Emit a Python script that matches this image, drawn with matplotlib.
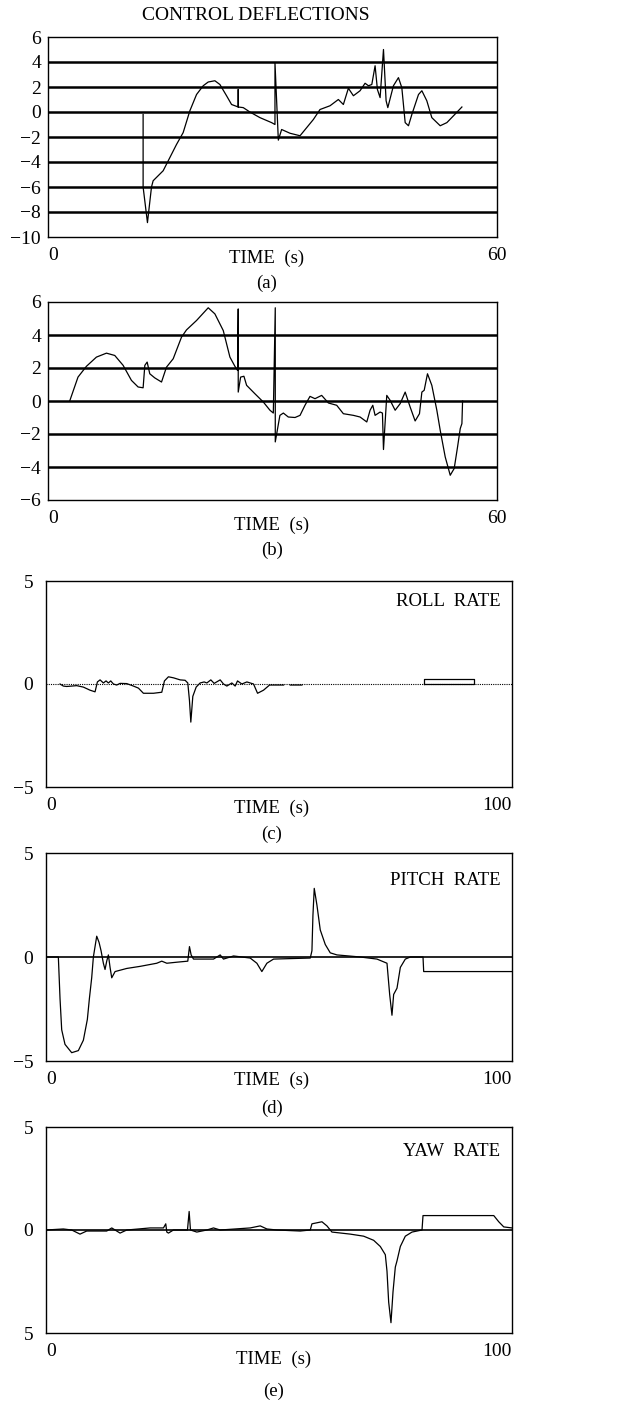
import matplotlib
matplotlib.use("Agg")
import matplotlib.pyplot as plt
import numpy as np

plt.rcParams['font.family'] = ['Liberation Serif', 'DejaVu Serif']

### Data

# (a) control deflection 1, 0-60 s
ta = [12.71, 12.71, 13.29, 13.83, 14.05, 15.39, 16.28, 17.17, 18.06, 18.96, 19.85,
      20.74, 21.41, 22.30, 22.97, 23.86, 24.53, 24.98, 25.42, 25.42, 25.42, 26.09,
      26.98, 28.32, 29.88, 30.33, 30.33, 30.78, 31.22, 32.34, 33.68, 34.57, 35.46,
      36.35, 37.02, 37.69, 38.80, 39.47, 40.14, 40.81, 41.70, 42.37, 42.82, 43.27,
      43.71, 44.02, 44.38, 44.83, 45.18, 45.41, 46.16, 46.83, 47.28, 47.73, 48.17,
      48.62, 49.51, 49.96, 50.62, 51.29, 52.41, 53.30, 54.19, 55.31]
da = [-0.2, -6.0, -8.85, -6.0, -5.5, -4.7, -3.65, -2.6, -1.65, 0.1, 1.4,
      2.1, 2.4, 2.5, 2.2, 1.3, 0.6, 0.5, 0.4, 1.8, 0.4, 0.35,
      0.0, -0.45, -0.85, -1.0, 3.95, -2.25, -1.4, -1.7, -1.9, -1.25, -0.6,
      0.2, 0.35, 0.5, 1.0, 0.6, 1.9, 1.3, 1.7, 2.3, 2.1, 2.2,
      3.7, 1.8, 1.15, 5.0, 0.9, 0.35, 2.1, 2.75, 1.95, -0.85, -1.1,
      -0.2, 1.4, 1.7, 0.9, -0.45, -1.1, -0.85, -0.3, 0.4]

# (b) control deflection 2, 0-60 s
tb = [2.90, 4.01, 5.13, 6.47, 7.81, 8.92, 10.04, 11.15, 12.04, 12.71, 12.94, 13.25,
      13.60, 14.27, 15.17, 15.83, 16.73, 17.84, 18.51, 19.85, 21.41, 22.30, 23.42,
      24.31, 24.98, 25.34, 25.42, 25.42, 25.74, 26.18, 26.54, 27.65, 28.77, 29.66,
      30.11, 30.37, 30.37, 30.99, 31.45, 32.11, 33.01, 33.68, 34.34, 35.01, 35.68,
      36.57, 37.47, 38.58, 39.47, 40.81, 41.70, 42.60, 43.04, 43.40, 43.71, 44.38,
      44.69, 44.83, 45.27, 45.72, 46.39, 47.06, 47.73, 48.39, 49.06, 49.64, 49.96,
      50.27, 50.71, 51.29, 51.96, 52.41, 53.08, 53.75, 54.28, 54.73, 55.09, 55.31, 55.40]
db = [0.0, 1.45, 2.1, 2.66, 2.9, 2.76, 2.16, 1.25, 0.85, 0.8, 2.16, 2.36,
      1.65, 1.4, 1.15, 2.05, 2.56, 3.87, 4.31, 4.88, 5.65, 5.28, 4.27,
      2.66, 2.1, 1.85, 5.58, 0.54, 1.45, 1.5, 0.95, 0.44, -0.06, -0.56,
      -0.73, 5.65, -2.48, -0.87, -0.73, -0.97, -1.0, -0.87, -0.26, 0.28, 0.14,
      0.34, -0.12, -0.26, -0.77, -0.87, -0.97, -1.27, -0.56, -0.26, -0.87, -0.67,
      -0.73, -2.94, 0.34, 0.04, -0.56, -0.16, 0.54, -0.36, -1.21, -0.77, 0.54,
      0.65, 1.65, 0.95, -0.56, -1.77, -3.39, -4.5, -4.09, -2.78, -1.67, -1.37, 0.0]

# (c) roll rate, 0-100 s (nan = gap in trace)
tc = [3.10, 3.83, 4.57, 6.78, 8.26, 9.73, 10.84, 11.36, 11.95, 12.68, 13.27, 13.79,
      14.31, 14.90, 15.63, 16.37, 17.85, 19.32, 20.43, 21.53, 23.75, 25.59, 26.18,
      27.06, 28.17, 29.65, 30.75, 31.34, 31.71, 32.01, 32.45, 33.19, 34.07, 34.96,
      35.55, 36.43, 37.17, 38.50, 39.23, 39.97, 41.08, 41.81, 42.33, 43.29, 44.40,
      45.87, 46.76, 48.08, 49.41, 52.51, 53.2, 53.98, 56.56]
dc = [0.0, -0.1, -0.12, -0.08, -0.15, -0.3, -0.38, 0.1, 0.2, 0.05, 0.15, 0.05,
      0.15, 0.0, -0.05, 0.03, 0.02, -0.1, -0.2, -0.45, -0.45, -0.4, 0.15,
      0.35, 0.3, 0.2, 0.18, 0.05, -0.8, -1.85, -0.6, -0.15, 0.05, 0.1,
      0.05, 0.2, 0.03, 0.2, 0.0, -0.1, 0.05, -0.1, 0.15, 0.0, 0.1,
      0.0, -0.45, -0.3, -0.05, -0.05, np.nan, -0.05, -0.05]
# (c) small box near the end of the roll trace
box_t = [83.48, 94.54, 94.54, 83.48, 83.48]
box_v = [0.0, 0.0, 0.25, 0.25, 0.0]

# (d) pitch rate
td = [0.0, 2.73, 3.10, 3.47, 4.20, 5.68, 7.15, 8.26, 9.14, 9.59, 10.10, 10.47,
      10.84, 11.21, 11.73, 12.17, 12.68, 13.05, 13.42, 13.79, 14.16, 14.53, 15.27,
      17.85, 20.80, 24.48, 25.59, 26.70, 28.91, 31.34, 31.71, 32.08, 32.60, 37.02,
      38.50, 39.23, 41.45, 45.13, 46.61, 47.71, 48.82, 50.29, 58.41, 58.78, 59.00,
      59.29, 59.88, 60.62, 61.73, 62.83, 64.31, 69.47, 73.16, 75.37, 75.96, 76.47,
      76.84, 77.58, 78.32, 79.42, 80.53, 83.33, 83.48, 103.0]
dd = [0.0, 0.0, -2.0, -3.5, -4.2, -4.6, -4.5, -4.0, -3.0, -2.0, -1.0, 0.0,
      0.5, 1.0, 0.7, 0.3, -0.3, -0.6, -0.2, 0.1, -0.5, -1.0, -0.7,
      -0.55, -0.45, -0.3, -0.2, -0.3, -0.25, -0.2, 0.5, 0.1, -0.1, -0.1,
      0.1, -0.1, 0.05, -0.05, -0.3, -0.7, -0.3, -0.1, -0.05, 0.3, 2.0,
      3.3, 2.5, 1.3, 0.6, 0.2, 0.1, 0.0, -0.1, -0.3, -1.8, -2.8,
      -1.8, -1.5, -0.5, -0.1, 0.0, 0.0, -0.7, -0.7]

# (e) yaw rate
te = [0.0, 3.83, 5.68, 7.52, 8.99, 13.42, 14.53, 16.37, 17.85, 23.01, 25.96, 26.47,
      26.70, 27.06, 28.17, 31.27, 31.64, 31.93, 33.33, 35.55, 37.02, 38.50, 45.13,
      47.35, 48.82, 51.03, 56.19, 58.41, 58.78, 60.99, 62.09, 63.20, 67.26, 70.21,
      72.42, 73.89, 75.00, 75.37, 75.74, 76.25, 76.70, 77.21, 77.58, 78.32, 79.42,
      80.90, 83.11, 83.33, 98.97, 100.07, 101.18, 103.0]
de = [0.0, 0.05, 0.0, -0.2, -0.05, -0.05, 0.1, -0.15, 0.0, 0.1, 0.1, 0.3,
      -0.1, -0.15, 0.0, 0.0, 0.9, 0.0, -0.1, 0.0, 0.1, 0.0, 0.1,
      0.2, 0.05, 0.0, -0.05, 0.0, 0.3, 0.4, 0.2, -0.1, -0.2, -0.3,
      -0.5, -0.8, -1.2, -2.0, -3.5, -4.5, -3.0, -1.8, -1.5, -0.8, -0.3,
      -0.1, 0.0, 0.7, 0.7, 0.4, 0.15, 0.1]

### Figure

W, H = 619, 1406
FS = 14
fig = plt.figure(figsize=(W / 100, H / 100), dpi=100)


def box(l, r, t, b):
    return fig.add_axes([l / W, 1 - b / H, (r - l) / W, (b - t) / H])


def style(ax, ypad, last_ha):
    ax.tick_params(length=0, labelsize=FS)
    ax.tick_params(axis='y', pad=ypad)
    ax.tick_params(axis='x', pad=7)
    labs = ax.get_xticklabels()
    labs[0].set_ha('left')
    labs[-1].set_ha(last_ha)
    for s in ax.spines.values():
        s.set_linewidth(1.0)


def caption(x, y1, y2, tag):
    fig.text(x / W, 1 - y1 / H, 'TIME  (s)', ha='center', va='center', fontsize=FS - 0.5)
    fig.text(x / W, 1 - y2 / H, tag, ha='center', va='center', fontsize=FS - 0.5)


fig.text(256 / W, 1 - 15 / H, 'CONTROL DEFLECTIONS', ha='center', va='center', fontsize=FS)

# (a)
ax = box(48, 497, 37, 237)
for g in range(-8, 6, 2):
    ax.axhline(g, color='k', lw=1.8)
ax.plot(ta, da, color='k', lw=0.9)
ax.set_xlim(0, 60)
ax.set_ylim(-10, 6)
ax.set_yticks(range(-10, 7, 2))
ax.set_xticks([0, 60])
style(ax, 5, 'center')
caption(267, 258, 283, '(a)')

# (b)
ax = box(48, 497, 302, 500)
for g in range(-4, 6, 2):
    ax.axhline(g, color='k', lw=1.8)
ax.plot(tb, db, color='k', lw=0.9)
ax.set_xlim(0, 60)
ax.set_ylim(-6, 6)
ax.set_yticks(range(-6, 7, 2))
ax.set_xticks([0, 60])
style(ax, 5, 'center')
caption(272, 525, 550, '(b)')

# (c)
ax = box(46, 512, 581, 787)
ax.axhline(0, color='k', lw=0.8, ls=(0, (1, 1)))
ax.plot(tc, dc, color='k', lw=0.9)
ax.plot(box_t, box_v, color='k', lw=0.9)
ax.text(0.975, 0.9, 'ROLL  RATE', transform=ax.transAxes, ha='right', va='center', fontsize=FS - 0.5)
ax.set_xlim(0, 103)
ax.set_ylim(-5, 5)
ax.set_yticks([-5, 0, 5])
ax.set_xticks([0, 103])
ax.set_xticklabels(['0', '100'])
style(ax, 9, 'right')
caption(272, 808, 834, '(c)')

# (d)
ax = box(46, 512, 853, 1061)
ax.axhline(0, color='k', lw=1.2)
ax.plot(td, dd, color='k', lw=0.9)
ax.text(0.975, 0.87, 'PITCH  RATE', transform=ax.transAxes, ha='right', va='center', fontsize=FS - 0.5)
ax.set_xlim(0, 103)
ax.set_ylim(-5, 5)
ax.set_yticks([-5, 0, 5])
ax.set_xticks([0, 103])
ax.set_xticklabels(['0', '100'])
style(ax, 9, 'right')
caption(272, 1080, 1108, '(d)')

# (e)
ax = box(46, 512, 1127, 1333)
ax.axhline(0, color='k', lw=1.2)
ax.plot(te, de, color='k', lw=0.9)
ax.text(0.975, 0.88, 'YAW  RATE', transform=ax.transAxes, ha='right', va='center', fontsize=FS - 0.5)
ax.set_xlim(0, 103)
ax.set_ylim(-5, 5)
ax.set_yticks([-5, 0, 5])
ax.set_yticklabels(['5', '0', '5'])
ax.set_xticks([0, 103])
ax.set_xticklabels(['0', '100'])
style(ax, 9, 'right')
caption(274, 1359, 1391, '(e)')

fig.savefig('out.png', dpi=100)
